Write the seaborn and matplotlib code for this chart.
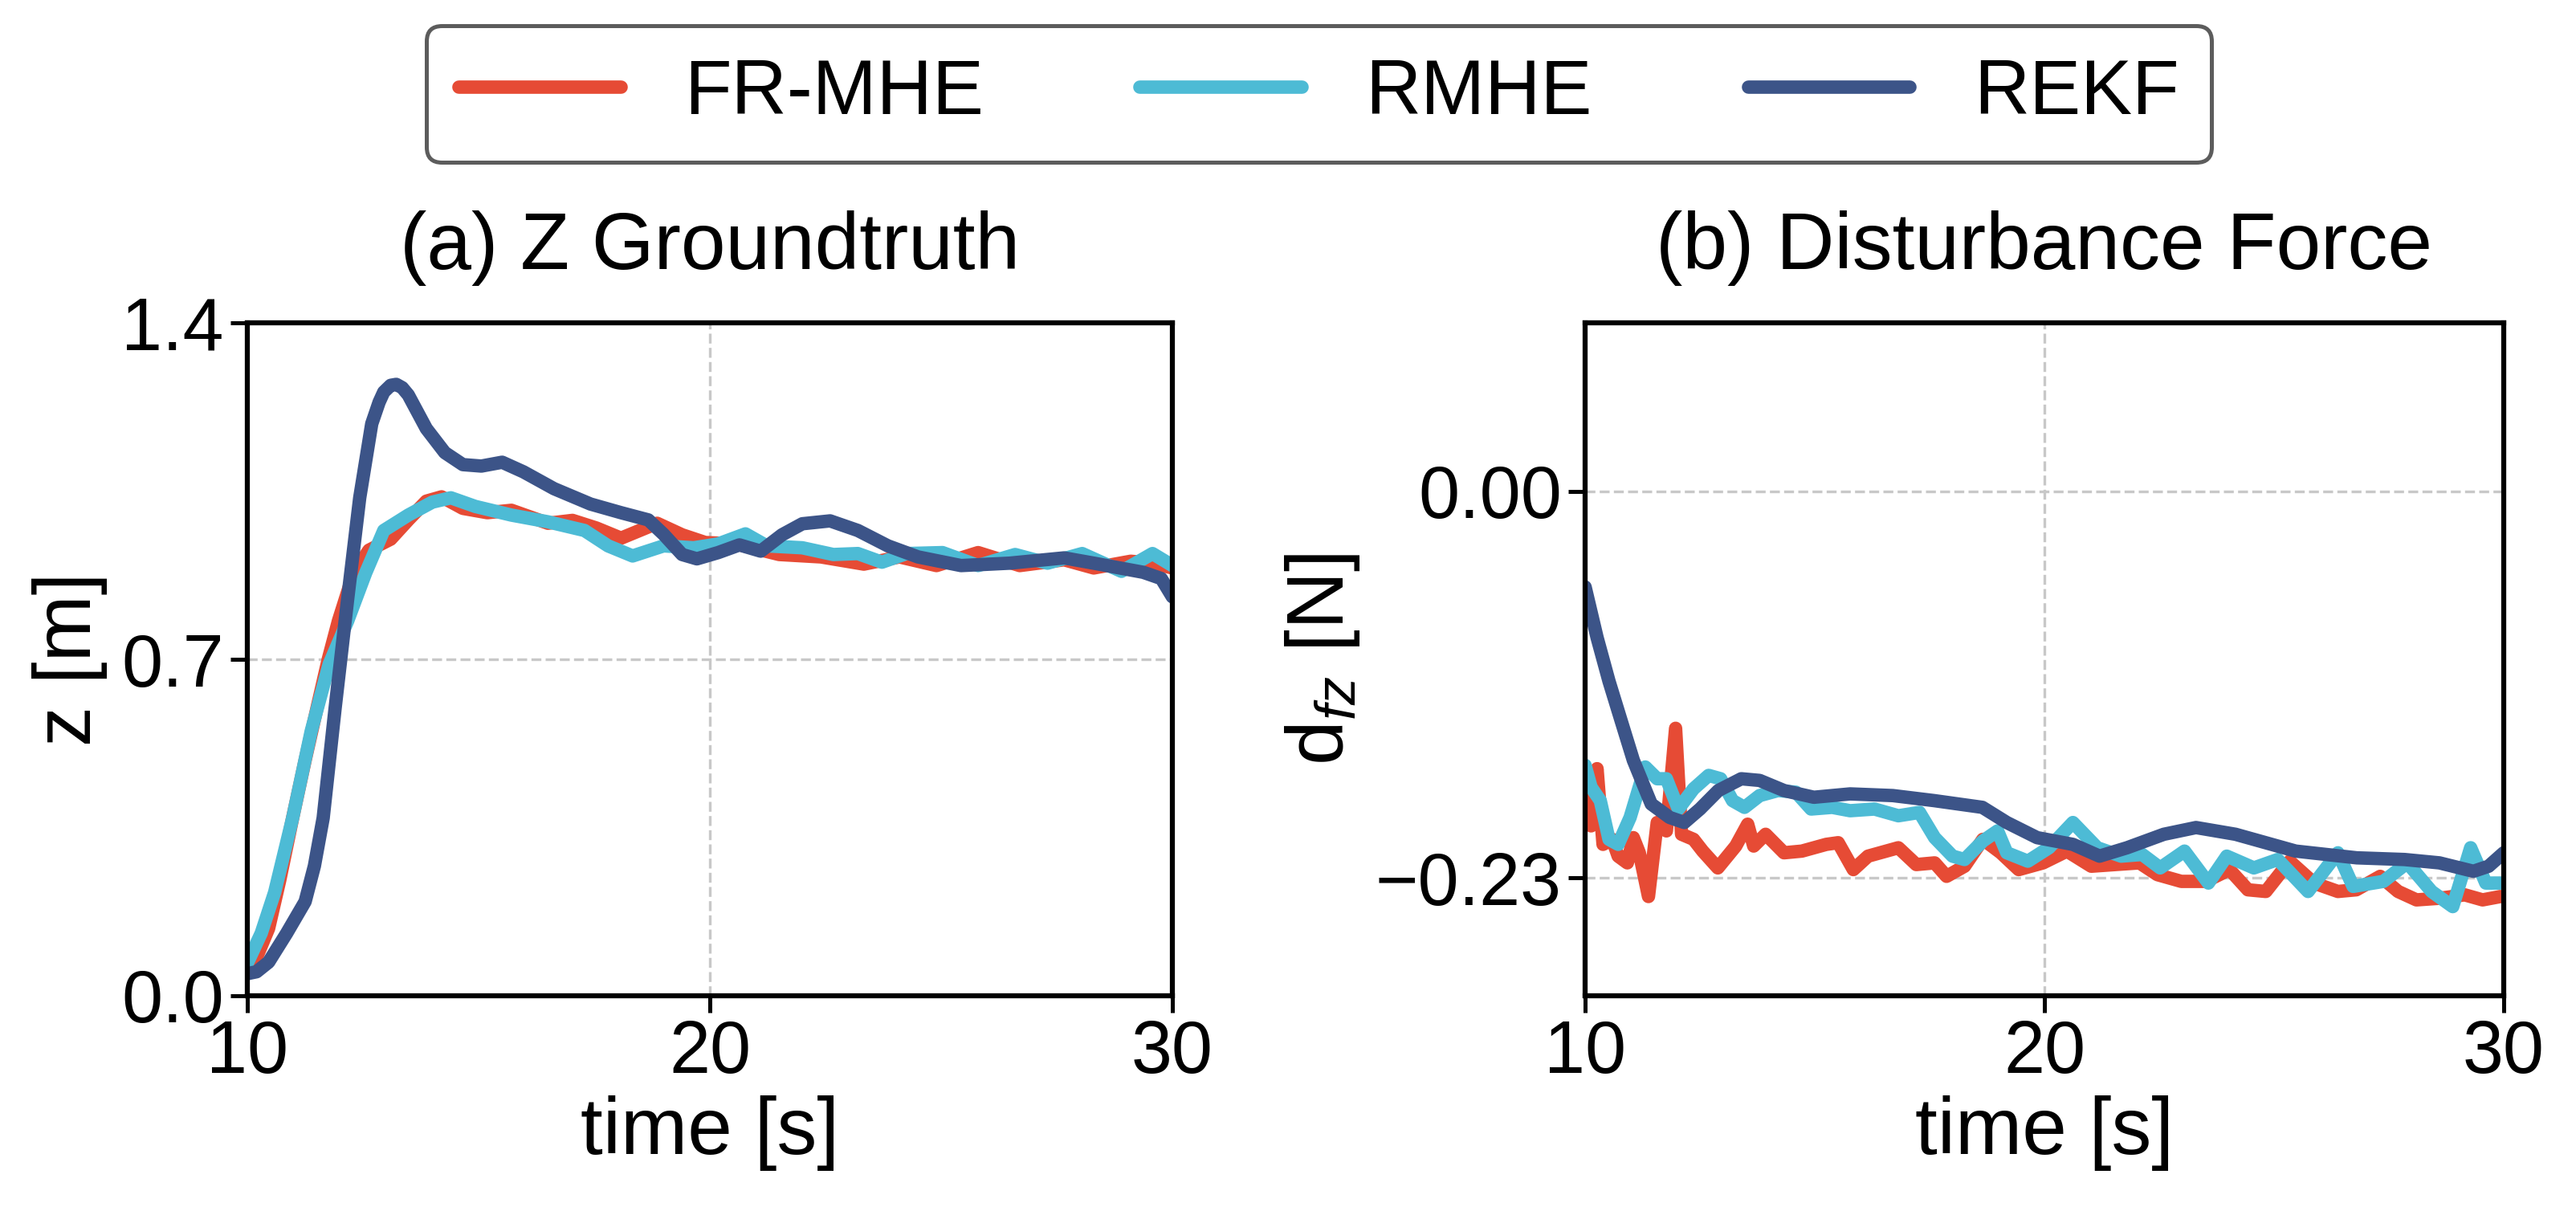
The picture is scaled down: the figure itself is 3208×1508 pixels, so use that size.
import numpy as np
import pandas as pd
import matplotlib
matplotlib.use("Agg")
import matplotlib.pyplot as plt
import seaborn as sns

# ---------------- data ----------------
series_names = ["FR-MHE", "RMHE", "REKF"]
colors = ["#E64B35", "#4DBBD5", "#3C5488"]

# (a) Z groundtruth
z_frmhe_t = [10.0, 10.2, 10.46, 10.7, 10.98, 11.25, 11.51, 11.75, 11.97, 12.3, 12.63, 13.1, 13.48, 13.87, 14.2,
             14.66, 15.19, 15.71, 16.5, 17.03, 17.55, 18.08, 18.86, 19.4, 19.9, 20.57, 21.5, 22.4, 23.33,
             24.1, 24.9, 25.8, 26.7, 27.66, 28.3, 29.1, 29.57, 30.0]
z_frmhe_v = [0.05, 0.08, 0.14, 0.24, 0.37, 0.49, 0.60, 0.70, 0.78, 0.88, 0.927, 0.95, 0.99, 1.029, 1.038,
             1.014, 1.005, 1.01, 0.983, 0.989, 0.973, 0.952, 0.983, 0.959, 0.943, 0.94, 0.918, 0.913, 0.898,
             0.913, 0.895, 0.922, 0.895, 0.907, 0.89, 0.904, 0.90, 0.89]

z_rmhe_t = [10.0, 10.3, 10.59, 10.98, 11.38, 11.77, 12.17, 12.56, 12.95, 13.48, 14.0, 14.4, 14.93, 15.71,
            16.5, 17.29, 17.8, 18.33, 19.0, 19.65, 20.18, 20.77, 21.23, 22.0, 22.67, 23.2, 23.72, 24.25,
            25.03, 25.8, 26.6, 27.3, 28.05, 28.9, 29.57, 30.0]
z_rmhe_v = [0.068, 0.13, 0.215, 0.37, 0.55, 0.69, 0.78, 0.88, 0.968, 1.0, 1.027, 1.036, 1.018, 1.0,
            0.986, 0.968, 0.936, 0.915, 0.936, 0.932, 0.94, 0.961, 0.936, 0.932, 0.918, 0.92, 0.902, 0.92,
            0.922, 0.895, 0.918, 0.90, 0.92, 0.883, 0.92, 0.895]

z_rekf_t = [10.0, 10.2, 10.46, 10.85, 11.25, 11.45, 11.64, 11.9, 12.17, 12.43, 12.69, 12.85, 12.95, 13.1,
            13.22, 13.35, 13.48, 13.87, 14.27, 14.66, 15.06, 15.51, 15.97, 16.63, 17.42, 18.08, 18.67,
            19.0, 19.4, 19.72, 20.18, 20.64, 21.1, 21.56, 22.0, 22.6, 23.2, 23.85, 24.5, 25.43, 26.48,
            27.66, 28.3, 29.37, 29.76, 30.0]
z_rekf_v = [0.046, 0.05, 0.07, 0.13, 0.196, 0.27, 0.37, 0.60, 0.826, 1.036, 1.19, 1.235, 1.256, 1.27,
            1.272, 1.265, 1.25, 1.18, 1.13, 1.105, 1.102, 1.11, 1.09, 1.055, 1.023, 1.005, 0.99, 0.96,
            0.918, 0.909, 0.922, 0.938, 0.925, 0.959, 0.982, 0.988, 0.968, 0.936, 0.913, 0.895, 0.90,
            0.911, 0.90, 0.881, 0.868, 0.83]

# (b) Disturbance force
d_frmhe_t = [10.0, 10.13, 10.26, 10.39, 10.59, 10.72, 10.92, 11.05, 11.18, 11.38, 11.57, 11.77, 11.97,
             12.1, 12.36, 12.56, 12.89, 13.28, 13.54, 13.67, 13.93, 14.33, 14.72, 15.25, 15.51, 15.84, 16.16,
             16.82, 17.21, 17.61, 17.87, 18.26, 18.66, 19.05, 19.44, 19.97, 20.49, 21.02, 21.54, 22.07,
             22.46, 22.98, 23.51, 24.03, 24.43, 24.82, 25.34, 25.87, 26.39, 26.79, 27.31, 27.7, 28.1, 28.62,
             29.15, 29.54, 29.93]
d_frmhe_v = [-0.181, -0.199, -0.165, -0.21, -0.207, -0.217, -0.221, -0.206, -0.215, -0.241, -0.197,
             -0.202, -0.141, -0.204, -0.207, -0.214, -0.224, -0.211, -0.198, -0.211, -0.204, -0.215, -0.214,
             -0.21, -0.209, -0.225, -0.217, -0.212, -0.222, -0.221, -0.229, -0.223, -0.207, -0.215, -0.225,
             -0.221, -0.214, -0.223, -0.222, -0.221, -0.228, -0.232, -0.232, -0.225, -0.237, -0.238, -0.22,
             -0.233, -0.238, -0.237, -0.229, -0.238, -0.243, -0.242, -0.24, -0.243, -0.241]

d_rmhe_t = [10.0, 10.13, 10.33, 10.52, 10.72, 10.98, 11.31, 11.57, 11.77, 12.03, 12.36, 12.69, 12.95,
            13.21, 13.47, 13.8, 14.2, 14.59, 14.92, 15.38, 15.77, 16.3, 16.82, 17.28, 17.61, 18.0, 18.26,
            18.66, 18.98, 19.18, 19.64, 20.1, 20.62, 21.15, 21.67, 22.13, 22.52, 23.05, 23.57, 23.97, 24.56,
            25.08, 25.74, 26.39, 26.72, 27.38, 27.9, 28.43, 28.89, 29.28, 29.61, 29.93]
d_rmhe_v = [-0.163, -0.176, -0.184, -0.207, -0.21, -0.194, -0.164, -0.171, -0.171, -0.189, -0.177,
            -0.169, -0.171, -0.184, -0.188, -0.181, -0.178, -0.179, -0.189, -0.188, -0.19, -0.189, -0.193,
            -0.191, -0.206, -0.217, -0.219, -0.208, -0.202, -0.215, -0.22, -0.212, -0.197, -0.212, -0.217,
            -0.216, -0.224, -0.214, -0.233, -0.217, -0.224, -0.219, -0.238, -0.215, -0.235, -0.232, -0.221,
            -0.238, -0.247, -0.212, -0.233, -0.233]

d_rekf_t = [10.0, 10.26, 10.52, 10.79, 11.05, 11.44, 11.84, 12.16, 12.5, 12.9, 13.4, 13.8, 14.33, 14.98,
            15.77, 16.7, 17.6, 18.65, 19.18, 19.84, 20.62, 21.2, 21.8, 22.6, 23.3, 24.16, 25.47, 26.8, 27.84,
            28.6, 29.34, 29.67, 30.0]
d_rekf_v = [-0.057, -0.087, -0.113, -0.137, -0.16, -0.186, -0.194, -0.197, -0.189, -0.178, -0.171, -0.172,
            -0.178, -0.182, -0.18, -0.181, -0.184, -0.188, -0.197, -0.206, -0.21, -0.217, -0.212, -0.204,
            -0.20, -0.204, -0.214, -0.218, -0.219, -0.221, -0.226, -0.223, -0.215]

titles = ["(a) Z Groundtruth", "(b) Disturbance Force"]
ylabels = ["z [m]", "d$_{fz}$ [N]"]
xlabel = "time [s]"
xticks = [10, 20, 30]
yticks_a = [0.0, 0.7, 1.4]
yticks_b = [-0.23, 0.00]

# ---------------- style ----------------
sns.set_style("white")
plt.rcParams['font.family'] = ['Liberation Sans', 'DejaVu Sans']
plt.rcParams['mathtext.fontset'] = 'custom'
plt.rcParams['mathtext.rm'] = 'Liberation Sans'
plt.rcParams['mathtext.it'] = 'Liberation Sans:italic'
plt.rcParams['axes.unicode_minus'] = True
for k in ['text.color', 'axes.labelcolor', 'xtick.color', 'ytick.color', 'axes.edgecolor']:
    plt.rcParams[k] = 'black'

FS_TICK = 22
FS_LAB = 24
FS_LEG = 23
LW = 4.0

def make_df(tlist, vlist):
    frames = []
    for name, t, v in zip(series_names, tlist, vlist):
        frames.append(pd.DataFrame({"time": t, "value": v, "method": name}))
    return pd.concat(frames, ignore_index=True)

df_a = make_df([z_frmhe_t, z_rmhe_t, z_rekf_t], [z_frmhe_v, z_rmhe_v, z_rekf_v])
df_b = make_df([d_frmhe_t, d_rmhe_t, d_rekf_t], [d_frmhe_v, d_rmhe_v, d_rekf_v])

fig = plt.figure(figsize=(3208 / 300, 1508 / 300), dpi=300)
ax1 = fig.add_axes([308 / 3208, 1 - 1240 / 1508, (1460 - 308) / 3208, (1240 - 402) / 1508])
ax2 = fig.add_axes([1974 / 3208, 1 - 1240 / 1508, (3118 - 1974) / 3208, (1240 - 402) / 1508])

pal = dict(zip(series_names, colors))
for ax, df in [(ax1, df_a), (ax2, df_b)]:
    sns.lineplot(data=df, x="time", y="value", hue="method", palette=pal, ax=ax,
                 estimator=None, sort=False, linewidth=LW, legend=False)
    for ln in ax.get_lines():
        ln.set_solid_joinstyle('round')
        ln.set_solid_capstyle('round')

ax1.set_xlim(10, 30)
ax1.set_ylim(0, 1.4)
ax1.set_yticks(yticks_a)
ax1.set_yticklabels([f"{v:.1f}" for v in yticks_a])
ax2.set_xlim(10, 30)
ax2.set_ylim(-0.3, 0.1)
ax2.set_yticks(yticks_b)
ax2.set_yticklabels(["\u22120.23", "0.00"])

for ax, title, yl in [(ax1, titles[0], ylabels[0]), (ax2, titles[1], ylabels[1])]:
    ax.set_xticks(xticks)
    ax.set_title(title, fontsize=FS_LAB, pad=16)
    ax.set_xlabel(xlabel, fontsize=FS_LAB, labelpad=2)
    ax.set_ylabel(yl, fontsize=FS_LAB, labelpad=4)
    ax.tick_params(axis='both', which='major', labelsize=FS_TICK, direction='out', length=5,
                   width=1.2, left=True, bottom=True, pad=2)
    ax.grid(True, linestyle='--', color='#c8c8c8', linewidth=0.8)
    for s in ax.spines.values():
        s.set_linewidth(1.5)
        s.set_color('black')

handles = [plt.Line2D([0], [0], color=c, lw=LW) for c in colors]
leg = fig.legend(handles, series_names, loc='upper center', ncol=3, fontsize=FS_LEG,
                 bbox_to_anchor=(0.512, 0.979), borderaxespad=0.0, frameon=True, fancybox=True,
                 handlelength=2.1, columnspacing=2.03, handletextpad=0.83,
                 borderpad=0.42)
leg.get_frame().set_edgecolor('#333333')
leg.get_frame().set_linewidth(1.2)

fig.savefig("out.png", dpi=300)
